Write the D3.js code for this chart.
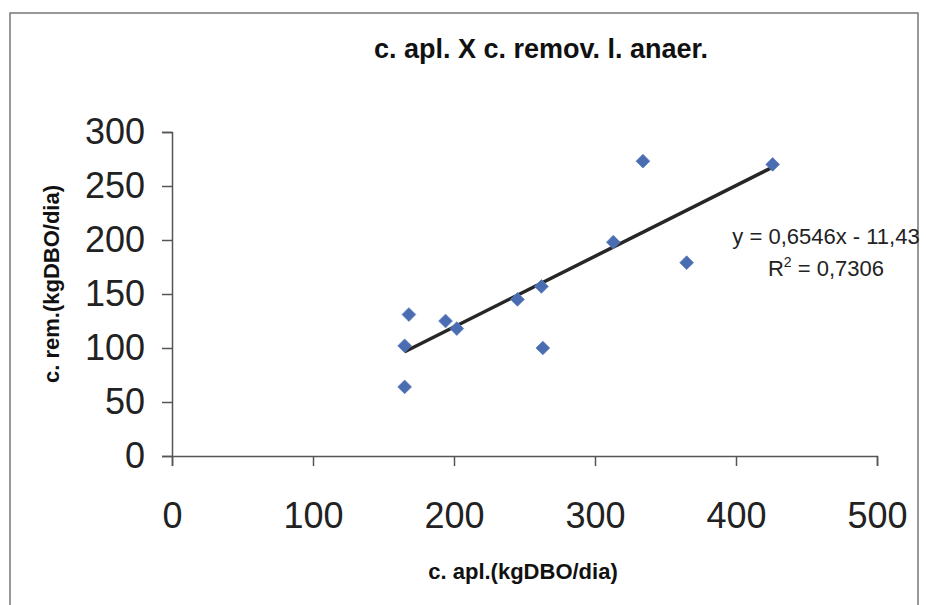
<!DOCTYPE html>
<html>
<head>
<meta charset="utf-8">
<style>
    body { margin: 0; padding: 0; background: white; }
    svg { display: block; }
</style>
<script src="https://cdn.jsdelivr.net/npm/d3@7"></script>
</head>
<body>
<svg width="926" height="605"></svg>
<script>
    // applied load vs removed load (kgDBO/dia)
    const cApl = [165, 165, 168, 194, 202, 245, 262, 263, 313, 334, 365, 426];
    const cRem = [64, 102, 131, 125, 118, 145, 157, 100, 198, 273, 179, 270];
    const xTicks = [0, 100, 200, 300, 400, 500];
    const yTicks = [0, 50, 100, 150, 200, 250, 300];
    // trendline as printed on the chart
    const slope = 0.6546, intercept = -11.43;
    const eqLabel = "y = 0,6546x - 11,43";
    const r2Label = " = 0,7306";

    const font = "'Liberation Sans', Arial, sans-serif";

    const svg = d3.select("svg");

    // chart frame (scanned page border)
    svg.append("rect")
        .attr("x", 10).attr("y", 13)
        .attr("width", 908).attr("height", 620)
        .attr("fill", "none")
        .attr("stroke", "#777")
        .attr("stroke-width", 1.5);

    const x = d3.scaleLinear().domain([0, 500]).range([172, 877]);
    const y = d3.scaleLinear().domain([0, 300]).range([456, 132]);

    // x axis
    const gx = svg.append("g")
        .attr("transform", `translate(0, ${y(0)})`)
        .call(d3.axisBottom(x).tickValues(xTicks).tickSize(10).tickPadding(36).tickFormat(d3.format("d")));

    // y axis
    const gy = svg.append("g")
        .attr("transform", `translate(${x(0)}, 0)`)
        .call(d3.axisLeft(y).tickValues(yTicks).tickSize(10).tickPadding(17).tickFormat(d3.format("d")));

    [gx, gy].forEach(g => {
        g.selectAll("path, line").attr("stroke", "#555").attr("stroke-width", 1.5);
        g.selectAll("text")
            .attr("font-family", font)
            .attr("font-size", "36px")
            .attr("fill", "#222");
    });

    // trend line over the data range
    const xMin = d3.min(cApl), xMax = d3.max(cApl);
    svg.append("line")
        .attr("x1", x(xMin)).attr("y1", y(slope * xMin + intercept))
        .attr("x2", x(xMax)).attr("y2", y(slope * xMax + intercept))
        .attr("stroke", "#262626")
        .attr("stroke-width", 3.5);

    // diamond markers
    const diamond = d3.symbol().type(d3.symbolDiamond2).size(120);
    svg.append("g").selectAll("path")
        .data(cApl.map((v, i) => [v, cRem[i]]))
        .join("path")
        .attr("d", diamond)
        .attr("transform", d => `translate(${x(d[0])}, ${y(d[1])})`)
        .attr("fill", "#4a6cb0")
        .attr("stroke", "#5b7cc0")
        .attr("stroke-width", 0.8);

    // equation label
    const eq = svg.append("text")
        .attr("x", 826).attr("y", 244)
        .attr("text-anchor", "middle")
        .attr("font-family", font)
        .attr("font-size", "22px")
        .attr("fill", "#222");
    eq.append("tspan").text(eqLabel);
    const r2 = svg.append("text")
        .attr("x", 826).attr("y", 276)
        .attr("text-anchor", "middle")
        .attr("font-family", font)
        .attr("font-size", "22px")
        .attr("fill", "#222");
    r2.append("tspan").text("R");
    r2.append("tspan").text("2").attr("font-size", "14px").attr("dy", "-9");
    r2.append("tspan").text(r2Label).attr("dy", "9");

    // title
    svg.append("text")
        .attr("x", 541).attr("y", 58)
        .attr("text-anchor", "middle")
        .attr("font-family", font)
        .attr("font-weight", "bold")
        .attr("font-size", "27px")
        .attr("fill", "#111")
        .text("c. apl. X c. remov. l. anaer.");

    // axis titles
    svg.append("text")
        .attr("x", 523).attr("y", 579)
        .attr("text-anchor", "middle")
        .attr("font-family", font)
        .attr("font-weight", "bold")
        .attr("font-size", "22px")
        .attr("fill", "#111")
        .text("c. apl.(kgDBO/dia)");

    svg.append("text")
        .attr("transform", "translate(59, 284) rotate(-90)")
        .attr("text-anchor", "middle")
        .attr("font-family", font)
        .attr("font-weight", "bold")
        .attr("font-size", "22px")
        .attr("fill", "#111")
        .text("c. rem.(kgDBO/dia)");
</script>
</body>
</html>
